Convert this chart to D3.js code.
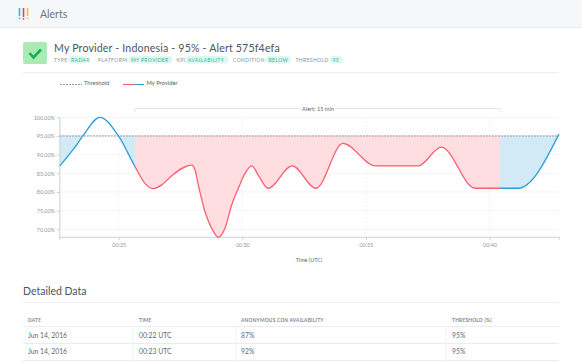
<!DOCTYPE html>
<html><head><meta charset="utf-8">
<script src="https://cdn.jsdelivr.net/npm/d3@7/dist/d3.min.js"></script>
<style>
html,body{margin:0;padding:0;background:#fff;overflow:hidden}
svg{display:block;font-family:Lato,"Open Sans",sans-serif}
</style></head><body>
<svg id="c" width="582" height="363"></svg>
<script>
const minutes=[22.62,23.23,23.55,24.24,24.97,25.66,26.06,26.38,26.74,27.17,27.95,28.09,28.22,28.49,28.76,29.03,29.30,29.57,29.84,30.11,30.38,30.68,31.04,32.02,32.98,34.07,35.38,37.12,38.05,39.42,41.16,42.81];
const availability=[87,92,95,100,95.2,86.8,82.3,80.9,81.9,84.5,87.2,85.9,81.9,74.7,70.3,67.9,70.3,76.5,81,85,87,84.1,81,87,81,93,87,87,92,81,81,95.5];
const threshold=95;
const yTicks=[100,95,90,85,80,75,70];
const xTicks=[25,30,35,40];
const alertStart=25.66, alertEnd=40.43;
const tagLabels=["TYPE","RADAR","PLATFORM","MY PROVIDER","KPI","AVAILABILITY","CONDITION","BELOW","THRESHOLD","95"];
const tableHeaders=["DATE","TIME","ANONYMOUS CDN AVAILABILITY","THRESHOLD (%)"];
const tableRows=[["Jun 14, 2016","00:22 UTC","87%","95%"],["Jun 14, 2016","00:23 UTC","92%","95%"]];
const blue="#2b9fd8",red="#fb5f70",blueFill="#d1eaf6",redFill="#ffdde0";

const svg=d3.select("#c");
const x=d3.scaleLinear().domain([25,30]).range([118.7,242.3]);
const y=d3.scaleLinear().domain([70,100]).range([229.3,117.3]);
const xL=x(minutes[0]),xR=x(minutes[minutes.length-1]),yB=237.3;

// header
svg.append("rect").attr("width",582).attr("height",27).attr("fill","#f6f7f8");
svg.append("line").attr("x1",0).attr("x2",582).attr("y1",27.5).attr("y2",27.5).attr("stroke","#e6e9ec");
[[19.5,"#2bc4b6"],[23.5,"#f0386b"],[27.5,"#e3c63f"]].forEach(([px,c],i)=>{
  svg.append("rect").attr("x",px-.8).attr("y",8).attr("width",1.6).attr("height",i==1?9:8).attr("fill",c);
  svg.append("rect").attr("x",px-.8).attr("y",i==1?18:17.5).attr("width",1.6).attr("height",1.6).attr("fill",c);
});
svg.append("text").text("Alerts").attr("x",40).attr("y",18).attr("font-size",10.5).attr("fill","#6b7480");

// title block
svg.append("rect").attr("x",23).attr("y",42).attr("width",24).attr("height",22).attr("rx",2).attr("fill","#a9eab5");
svg.append("path").attr("d","M29.5 53 L33.5 57.5 L41 49.5").attr("fill","none").attr("stroke","#17b350").attr("stroke-width",2.6);
svg.append("text").text("My Provider - Indonesia - 95% - Alert 575f4efa").attr("x",54).attr("y",52).attr("font-size",10.6).attr("letter-spacing",.17).attr("fill","#4a5561");
const tagX=[54,71,98,131,176.5,188,233,268.5,295.5,332.5];
const tagW=[0,13,0,39,0,38,0,20,0,8];
tagLabels.forEach((t,i)=>{
  const on=i%2==1;
  if(on) svg.append("rect").attr("x",tagX[i]-2.5).attr("y",56).attr("width",tagW[i]+5).attr("height",7.5).attr("rx",3.5).attr("fill","#dff7f2");
  svg.append("text").text(t).attr("x",tagX[i]).attr("y",62).attr("font-size",5).attr("letter-spacing",.38).attr("fill",on?"#2cbb9b":"#87909a");
});
svg.append("line").attr("x1",23).attr("x2",559).attr("y1",72.5).attr("y2",72.5).attr("stroke","#eceef0");

// legend
svg.append("line").attr("x1",60).attr("x2",82).attr("y1",84.5).attr("y2",84.5).attr("stroke","#8d97a5").attr("stroke-dasharray","2 1");
svg.append("text").text("Threshold").attr("x",84).attr("y",84.5).attr("font-size",5.8).attr("fill","#555e68");
svg.append("line").attr("x1",123).attr("x2",134).attr("y1",84.5).attr("y2",84.5).attr("stroke",red).attr("stroke-width",1.1);
svg.append("line").attr("x1",134).attr("x2",144).attr("y1",84.5).attr("y2",84.5).attr("stroke",blue).attr("stroke-width",1.1);
svg.append("text").text("My Provider").attr("x",146.5).attr("y",84.5).attr("font-size",5.8).attr("fill","#555e68");

// alert bracket
svg.append("path").attr("d",`M${x(alertStart)} 112V108.5H${x(alertEnd)}V112`).attr("fill","none").attr("stroke","#e4e7ea");
svg.append("text").text("Alert: 15 min").attr("x",318).attr("y",110.5).attr("text-anchor","middle").attr("font-size",5.6).attr("fill","#5f6873").attr("stroke","#fff").attr("stroke-width",3).attr("paint-order","stroke");

// grid
svg.append("g").selectAll("line").data(yTicks).join("line").attr("x1",xL).attr("x2",xR)
 .attr("y1",d=>y(d)).attr("y2",d=>y(d)).attr("stroke","#f3f4f6");
svg.append("g").selectAll("line").data(xTicks).join("line").attr("x1",d=>x(d)).attr("x2",d=>x(d))
 .attr("y1",y(100)).attr("y2",yB).attr("stroke","#eef0f3").attr("stroke-dasharray","2 2");

// areas
const data=minutes.map((m,i)=>({m,v:availability[i]}));
const curve=d3.curveMonotoneX;
const line=d3.line().x(d=>x(d.m)).y(d=>y(d.v)).curve(curve);
const area=d3.area().x(d=>x(d.m)).y0(y(threshold)).y1(d=>y(d.v)).curve(curve);
const defs=svg.append("defs");
const clip=(id,a,b,top,bot)=>defs.append("clipPath").attr("id",id).append("rect").attr("x",a).attr("width",b-a).attr("y",top).attr("height",bot-top);
clip("below",xL,xR,y(threshold),yB+2);
clip("midF",x(alertStart),x(alertEnd),y(threshold),yB+2);
clip("mid",x(alertStart),x(alertEnd),0,300);
const sides=defs.append("clipPath").attr("id","sides");
sides.append("rect").attr("x",0).attr("width",x(alertStart)).attr("y",0).attr("height",300);
sides.append("rect").attr("x",x(alertEnd)).attr("width",582-x(alertEnd)).attr("y",0).attr("height",300);
svg.append("g").attr("clip-path","url(#below)").append("path").datum(data).attr("d",area).attr("fill",blueFill);
svg.append("g").attr("clip-path","url(#midF)").append("path").datum(data).attr("d",area).attr("fill",redFill);

// axes
const axisC="#c9d0da";
const ax=svg.append("g").attr("transform",`translate(0,${yB})`)
 .call(d3.axisBottom(x).tickValues(xTicks).tickFormat(d=>"00:"+d).tickSize(3).tickPadding(3));
ax.select(".domain").attr("d",`M${xL} 2.5V0H${xR+.5}V2.5`).attr("stroke",axisC);
ax.selectAll("line").attr("stroke",axisC);
ax.selectAll("text").attr("font-size",5.4).attr("font-family","Lato").attr("fill","#8f98a3");
const ay=svg.append("g").attr("transform",`translate(${xL},0)`)
 .call(d3.axisLeft(y).tickValues(yTicks).tickFormat(d=>d.toFixed(2)+"%").tickSize(3).tickPadding(2));
ay.select(".domain").attr("d",`M0 ${y(100)}V${yB}`).attr("stroke",axisC);
ay.selectAll("line").attr("stroke",axisC);
ay.selectAll("text").attr("font-size",5.4).attr("font-family","Lato").attr("fill","#8f98a3");
svg.append("text").text("Time (UTC)").attr("x",309).attr("y",261.5).attr("text-anchor","middle").attr("font-size",5.4).attr("fill","#5f6873");

// threshold line & series
svg.append("line").attr("x1",xL).attr("x2",xR).attr("y1",y(threshold)).attr("y2",y(threshold)).attr("stroke","#8d97a5").attr("stroke-dasharray","2 1");
svg.append("g").attr("clip-path","url(#sides)").append("path").datum(data).attr("d",line).attr("fill","none").attr("stroke",blue).attr("stroke-width",1.3);
svg.append("g").attr("clip-path","url(#mid)").append("path").datum(data).attr("d",line).attr("fill","none").attr("stroke",red).attr("stroke-width",1.3);

// detailed data
svg.append("text").text("Detailed Data").attr("x",23).attr("y",295).attr("font-size",10.5).attr("fill","#4a5561");
svg.append("line").attr("x1",23).attr("x2",559).attr("y1",302.5).attr("y2",302.5).attr("stroke","#eceef0");
const colX=[28,139,241,452],sepX=[133,236,446],rowY=[326.5,343.5,360.5];
tableHeaders.forEach((t,i)=>svg.append("text").text(t).attr("x",colX[i]).attr("y",322).attr("font-size",4.8).attr("letter-spacing",.25).attr("font-weight",700).attr("fill","#7d8691"));
rowY.forEach(v=>svg.append("line").attr("x1",23).attr("x2",559).attr("y1",v).attr("y2",v).attr("stroke","#e9edf1"));
sepX.forEach(v=>svg.append("line").attr("x1",v).attr("x2",v).attr("y1",326.5).attr("y2",363).attr("stroke","#eef1f4"));
tableRows.forEach((r,j)=>r.forEach((t,i)=>svg.append("text").text(t).attr("x",colX[i]).attr("y",337.5+j*16.7).attr("font-size",6.8).attr("fill","#5f6873")));
</script></body></html>
